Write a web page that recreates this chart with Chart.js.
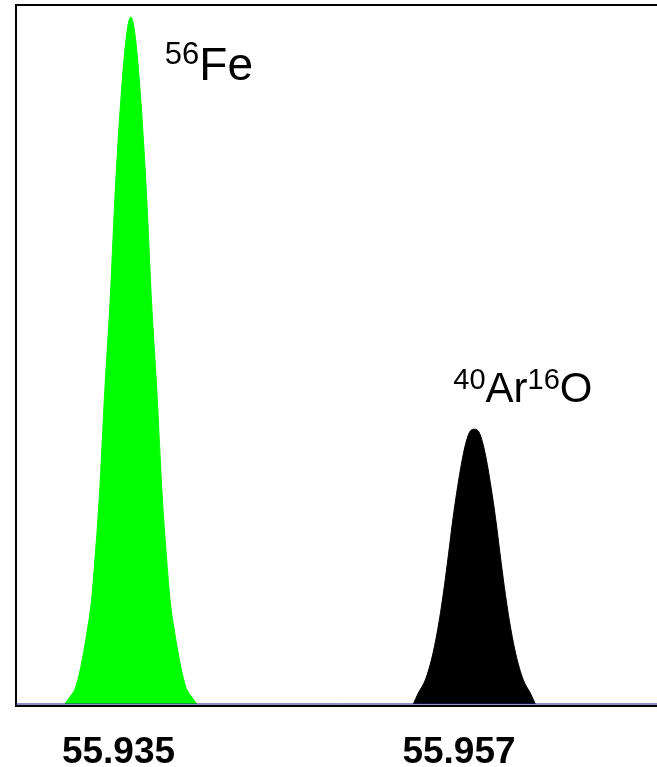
<!DOCTYPE html>
<html>
<head>
<meta charset="utf-8">
<script src="https://cdn.jsdelivr.net/npm/chart.js@4"></script>
<style>
  body { margin: 0; background: #fff; overflow: hidden; }
  canvas { display: block; }
</style>
</head>
<body>
<canvas id="grafica" width="657" height="767"></canvas>
<script>
// tick labels on the mass axis
const massTicks = [55.935, 55.957];

// 56Fe peak (relative intensity, apex = 100)
const feMass = [
  55.931531, 55.931854, 55.932241, 55.932564, 55.932952, 55.933256, 55.933437,
  55.933760, 55.934115, 55.934470, 55.934761, 55.935149, 55.935537, 55.935795,
  55.936053, 55.936441, 55.936829, 55.937120, 55.937475, 55.937830, 55.938153,
  55.938334, 55.938638, 55.939026, 55.939349, 55.939736, 55.940059
];
const feIntensity = [
  0, 1.0, 2.5, 5.4, 10.3, 15.1, 19.9, 30.1, 45.7, 59.2, 73.4, 87.9, 97.7, 100,
  97.7, 87.9, 73.4, 59.2, 45.7, 30.1, 19.9, 15.1, 10.3, 5.4, 2.5, 1.0, 0
];

// 40Ar16O peak
const aroMass = [
  55.954048, 55.954371, 55.954823, 55.955321, 55.955728, 55.956051, 55.956328,
  55.956600, 55.956910, 55.957291, 55.957647, 55.957989,
  55.958331, 55.958687, 55.959068, 55.959378, 55.959650, 55.959927, 55.960250,
  55.960657, 55.961155, 55.961607, 55.961930
];
const aroIntensity = [
  0, 1.6, 3.5, 7.4, 12.2, 17.1, 21.9, 26.8, 31.6, 36.5, 39.4, 40.0,
  39.4, 36.5, 31.6, 26.8, 21.9, 17.1, 12.2, 7.4, 3.5, 1.6, 0
];

const massMin = 55.928377;
const massMax = 55.969794;
const intMin = -0.29;
const intMax = 101.75;

const FONT = '"Liberation Sans", Arial, Helvetica, sans-serif';

const toPoints = (xs, ys) => xs.map((m, i) => ({ x: m, y: ys[i] }));

// labels above the peaks, anchored to each apex
const peakTags = [
  { mass: feMass[13], height: feIntensity[13], parts: [['56', true], ['Fe', false]],
    dx: 34, dy: 63, size: 46, supSize: 31, raise: 16 },
  { mass: aroMass[11], height: aroIntensity[11], parts: [['40', true], ['Ar', false], ['16', true], ['O', false]],
    dx: -21, dy: -27, size: 42, supSize: 29, raise: 13 }
];

const peakLabels = {
  id: 'peakLabels',
  afterDatasetsDraw(chart) {
    const { ctx, scales: { x, y } } = chart;
    peakTags.forEach(tag => {
      let cx = x.getPixelForValue(tag.mass) + tag.dx;
      const base = y.getPixelForValue(tag.height) + tag.dy;
      ctx.save();
      ctx.fillStyle = '#000';
      ctx.textAlign = 'left';
      ctx.textBaseline = 'alphabetic';
      tag.parts.forEach(([txt, sup]) => {
        ctx.font = (sup ? tag.supSize : tag.size) + 'px ' + FONT;
        ctx.fillText(txt, cx, sup ? base - tag.raise : base);
        cx += ctx.measureText(txt).width;
      });
      ctx.restore();
    });
  }
};

const ctx = document.getElementById('grafica').getContext('2d');
new Chart(ctx, {
  type: 'line',
  data: {
    datasets: [
      {
        label: 'baseline',
        data: [{ x: massMin, y: 0 }, { x: massMax, y: 0 }],
        borderColor: '#1c1c8a',
        borderWidth: 1,
        pointRadius: 0,
        fill: false
      },
      {
        label: '56Fe',
        data: toPoints(feMass, feIntensity),
        borderColor: '#00ff00',
        backgroundColor: '#00ff00',
        borderWidth: 1,
        pointRadius: 0,
        cubicInterpolationMode: 'monotone',
        fill: 'origin'
      },
      {
        label: '40Ar16O',
        data: toPoints(aroMass, aroIntensity),
        borderColor: '#000000',
        backgroundColor: '#000000',
        borderWidth: 1,
        pointRadius: 0,
        cubicInterpolationMode: 'monotone',
        fill: 'origin'
      }
    ]
  },
  options: {
    responsive: false,
    animation: false,
    layout: { padding: 0 },
    plugins: {
      legend: { display: false },
      tooltip: { enabled: false }
    },
    scales: {
      x: {
        type: 'linear',
        position: 'bottom',
        min: massMin,
        max: massMax,
        afterBuildTicks: scale => { scale.ticks = massTicks.map(v => ({ value: v })); },
        afterFit: scale => { scale.height = 61; },
        ticks: {
          color: '#000',
          padding: 25,
          maxRotation: 0,
          autoSkip: false,
          font: { family: FONT, size: 37, weight: 'bold' },
          callback: v => Number(v).toFixed(3)
        },
        grid: { drawOnChartArea: false, drawTicks: false },
        border: { color: '#000', width: 2 }
      },
      xTop: {
        type: 'linear',
        position: 'top',
        min: massMin,
        max: massMax,
        afterFit: scale => { scale.height = 5; },
        ticks: { display: false },
        grid: { drawOnChartArea: false, drawTicks: false },
        border: { color: '#000', width: 2 }
      },
      y: {
        type: 'linear',
        min: intMin,
        max: intMax,
        afterFit: scale => { scale.width = 16; },
        ticks: { display: false },
        grid: { drawOnChartArea: false, drawTicks: false },
        border: { color: '#000', width: 2 }
      }
    }
  },
  plugins: [peakLabels]
});
</script>
</body>
</html>
